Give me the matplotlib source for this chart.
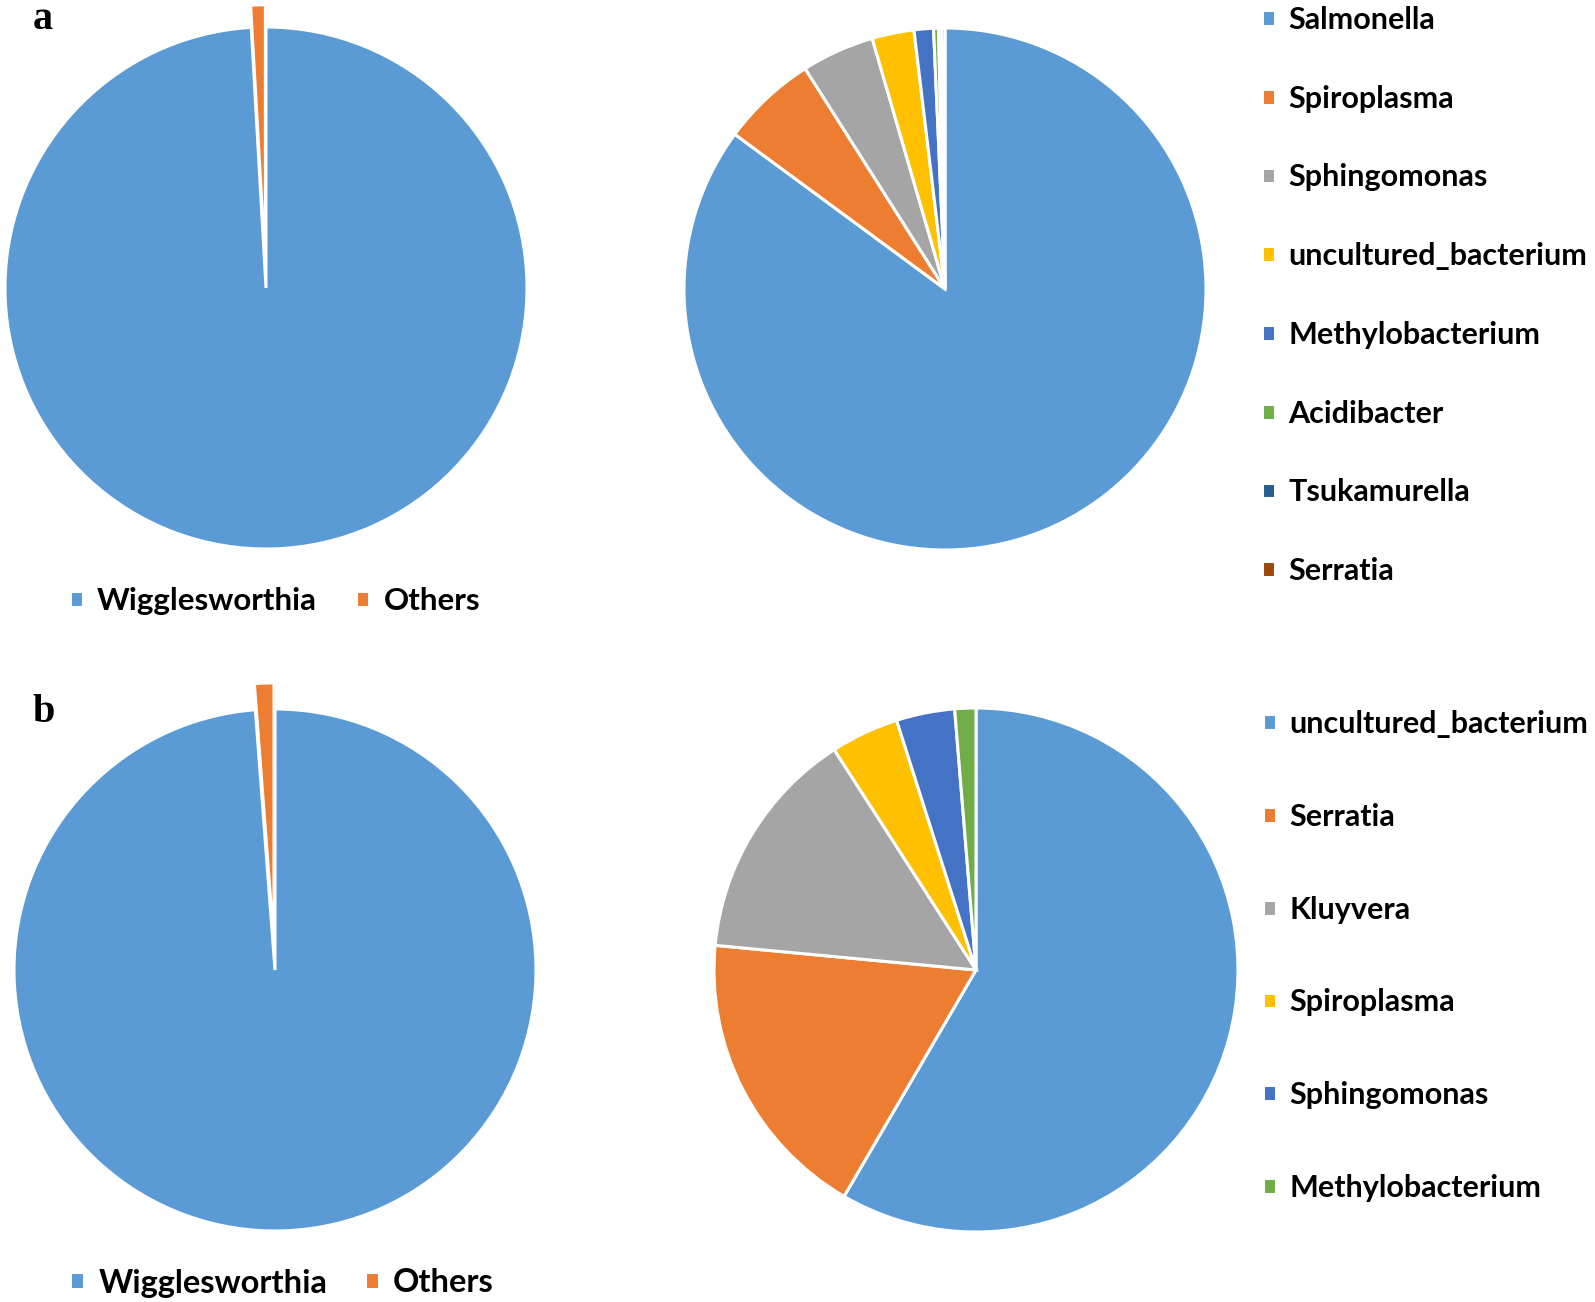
import matplotlib
matplotlib.use("Agg")
import matplotlib.pyplot as plt

plt.rcParams["font.family"] = ["Lato", "DejaVu Sans"]

W, H = 1595, 1302

# panel a
a_left_labels = ["Wigglesworthia", "Others"]
a_left_values = [99.1, 0.9]
a_right_labels = ["Salmonella", "Spiroplasma", "Sphingomonas", "uncultured_bacterium",
                  "Methylobacterium", "Acidibacter", "Tsukamurella", "Serratia"]
a_right_values = [85.1, 5.9, 4.5, 2.6, 1.2, 0.3, 0.2, 0.2]

# panel b
b_left_labels = ["Wigglesworthia", "Others"]
b_left_values = [98.8, 1.2]
b_right_labels = ["uncultured_bacterium", "Serratia", "Kluyvera", "Spiroplasma",
                  "Sphingomonas", "Methylobacterium"]
b_right_values = [58.4, 18.1, 14.4, 4.2, 3.6, 1.3]

BLUE = "#5B9BD5"
ORANGE = "#ED7D31"
GRAY = "#A5A5A5"
YELLOW = "#FFC000"
DBLUE = "#4472C4"
GREEN = "#70AD47"
NAVY = "#255E91"
BROWN = "#9E480E"

a_right_colors = [BLUE, ORANGE, GRAY, YELLOW, DBLUE, GREEN, NAVY, BROWN]
b_right_colors = [BLUE, ORANGE, GRAY, YELLOW, DBLUE, GREEN]


def pie_axes(fig, cx, cy, r):
    # cx, cy, r in pixels from the top-left corner
    return fig.add_axes([(cx - 1.25 * r) / W, 1 - (cy + 1.25 * r) / H,
                         2.5 * r / W, 2.5 * r / H])


def draw_pie(ax, values, colors, explode=None):
    wedges, _ = ax.pie(values, colors=colors, startangle=90, counterclock=False,
                       explode=explode,
                       wedgeprops=dict(edgecolor="white", linewidth=2.2))
    ax.set_xlim(-1.25, 1.25)
    ax.set_ylim(-1.25, 1.25)
    ax.set_aspect("equal")
    return wedges


def fig_point(x, y):
    return (x / W, 1 - y / H)


def add_legend(ax, wedges, labels, anchor, size, loc="upper left", **kw):
    return ax.legend(wedges, labels, loc=loc, bbox_to_anchor=fig_point(*anchor),
                     bbox_transform=fig.transFigure, frameon=False,
                     prop=dict(weight="bold", size=size), handlelength=0.42,
                     handleheight=0.42, handletextpad=0.45, borderpad=0,
                     borderaxespad=0, **kw)


fig = plt.figure(figsize=(W / 100, H / 100), dpi=100)

# ---- panel a
ax = pie_axes(fig, 266, 288, 261)
wedges = draw_pie(ax, a_left_values, [BLUE, ORANGE], explode=[0, 0.085])
add_legend(ax, wedges, a_left_labels, (70, 601), 22.5, loc="center left",
           ncol=2, columnspacing=1.25)

ax = pie_axes(fig, 945, 289, 261)
wedges = draw_pie(ax, a_right_values, a_right_colors)
add_legend(ax, wedges, a_right_labels, (1262, 6), 22, labelspacing=1.66)

# ---- panel b
ax = pie_axes(fig, 275, 970, 261)
wedges = draw_pie(ax, b_left_values, [BLUE, ORANGE], explode=[0, 0.1])
add_legend(ax, wedges, b_left_labels, (70, 1283), 23.5, loc="center left",
           ncol=2, columnspacing=1.15)

ax = pie_axes(fig, 976, 970, 262)
wedges = draw_pie(ax, b_right_values, b_right_colors)
add_legend(ax, wedges, b_right_labels, (1263, 710), 22, labelspacing=2.12)

# panel letters
fig.text(33 / W, 1 - 29 / H, "a", family="Liberation Serif", weight="bold", fontsize=29)
fig.text(33 / W, 1 - 722 / H, "b", family="Liberation Serif", weight="bold", fontsize=29)

fig.savefig("out.png", dpi=100)
